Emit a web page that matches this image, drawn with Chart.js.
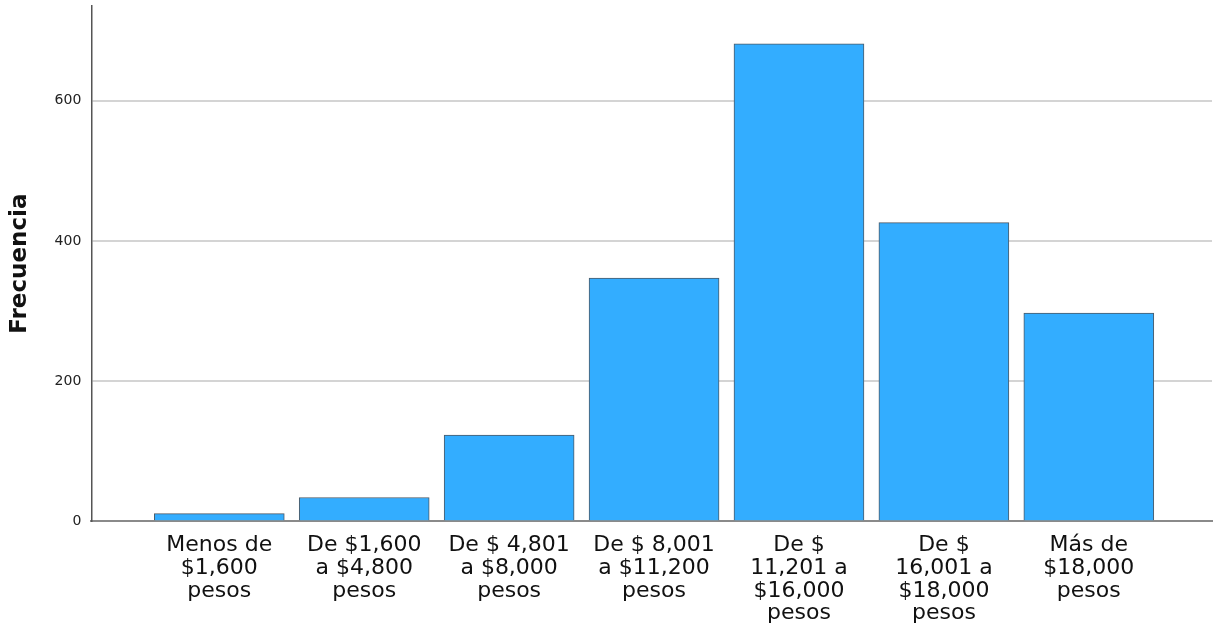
<!DOCTYPE html>
<html>
<head>
<meta charset="utf-8">
<script src="https://cdn.jsdelivr.net/npm/chart.js@4"></script>
<style>
  html, body { margin: 0; padding: 0; background: #fff; }
  #wrap { width: 1221px; height: 632px; }
</style>
</head>
<body>
<div id="wrap"><canvas id="barCanvas"></canvas></div>
<script>
const categories = [
    ["Menos de", "$1,600", "pesos"],
    ["De $1,600", "a $4,800", "pesos"],
    ["De $ 4,801", "a $8,000", "pesos"],
    ["De $ 8,001", "a $11,200", "pesos"],
    ["De $", "11,201 a", "$16,000", "pesos"],
    ["De $", "16,001 a", "$18,000", "pesos"],
    ["Más de", "$18,000", "pesos"]
];
const frecuencias = [11, 34, 123, 347, 681, 426, 297];
const yTicks = [0, 200, 400, 600];

const barCanvas = document.getElementById("barCanvas");

const barChart = new Chart(barCanvas, {
    type: "bar",
    data: {
        datasets: [{
            data: frecuencias.map((v, i) => ({x: i, y: v})),
            backgroundColor: "#33adff",
            borderColor: "#4d5a66",
            borderWidth: 1,
            barThickness: 130
        }]
    },
    options: {
        responsive: true,
        maintainAspectRatio: false,
        animation: false,
        layout: {
            padding: {top: 6, right: 9, left: 6, bottom: 2}
        },
        plugins: {
            legend: {display: false},
            tooltip: {enabled: false}
        },
        scales: {
            x: {
                type: "linear",
                offset: false,
                min: -0.883,
                max: 6.85,
                afterBuildTicks: scale => {
                    scale.ticks = categories.map((c, i) => ({value: i}));
                },
                afterFit: scale => {
                    scale.paddingLeft = 0;
                    scale.paddingRight = 0;
                    scale.height = scale.height - 8;
                },
                grid: {display: false, drawTicks: false},
                border: {color: "#8a8a8a", width: 2},
                ticks: {
                    autoSkip: false,
                    maxRotation: 0,
                    padding: 13,
                    color: "#111",
                    font: {family: "DejaVu Sans", size: 22, lineHeight: 1.03},
                    callback: value => categories[value]
                }
            },
            y: {
                min: 0,
                max: 735,
                afterBuildTicks: scale => {
                    scale.ticks = yTicks.map(v => ({value: v}));
                },
                afterFit: scale => {
                    scale.paddingTop = 0;
                    scale.paddingBottom = 0;
                },
                grid: {color: "#d4d4d4", lineWidth: 2, drawTicks: false},
                border: {color: "#555", width: 1.5},
                ticks: {
                    padding: 10,
                    color: "#222",
                    font: {family: "DejaVu Sans", size: 14}
                },
                title: {
                    display: true,
                    text: "Frecuencia",
                    color: "#111",
                    padding: {top: 0, bottom: 11},
                    font: {family: "DejaVu Sans", size: 23, weight: "bold"}
                }
            }
        }
    }
});
</script>
</body>
</html>
